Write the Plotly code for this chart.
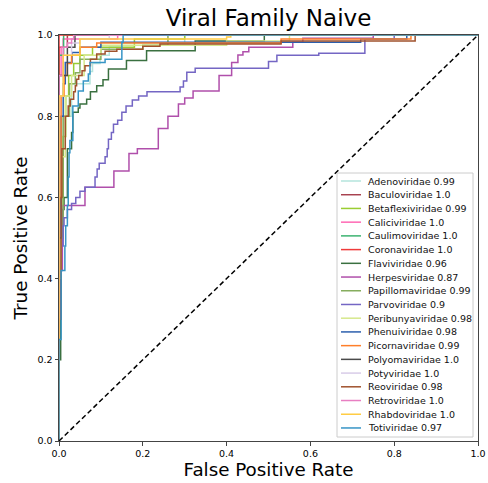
import plotly.graph_objects as go

# ---------------- data ----------------
families = ["Adenoviridae", "Baculoviridae", "Betaflexiviridae", "Caliciviridae",
            "Caulimoviridae", "Coronaviridae", "Flaviviridae", "Herpesviridae",
            "Papillomaviridae", "Parvoviridae", "Peribunyaviridae", "Phenuiviridae",
            "Picornaviridae", "Polyomaviridae", "Potyviridae", "Reoviridae",
            "Retroviridae", "Rhabdoviridae", "Totiviridae"]
auc_labels = ["0.99", "1.0", "0.99", "1.0", "1.0", "1.0", "0.96", "0.87", "0.99", "0.9",
              "0.98", "0.98", "0.99", "1.0", "1.0", "0.98", "1.0", "1.0", "0.97"]
colors = ["#b4e4dc", "#a8424f", "#9acd32", "#ff69b4", "#3cb371", "#ef3b3b", "#3a7040",
          "#b04fab", "#86ad5e", "#7466c4", "#d6e88c", "#2c5fad", "#ff7f2a", "#4a4a4a",
          "#d8cce8", "#a0522d", "#e87fc2", "#ffcc44", "#3795c6"]

adeno_fpr = [0, 0, 0.01, 0.03, 0.074, 0.08, 0.098, 0.12, 0.15, 0.3, 1]
adeno_tpr = [0, 0.5, 0.8, 0.88, 0.91, 0.93, 0.95, 0.97, 0.98, 1.0, 1]

bacul_fpr = [0, 0, 0.02, 1]
bacul_tpr = [0, 0.97, 1.0, 1]

betaf_fpr = [0, 0, 0.01, 0.016, 0.023, 0.035, 0.05, 0.08, 0.18, 0.3, 1]
betaf_tpr = [0, 0.5, 0.75, 0.85, 0.9, 0.93, 0.95, 0.97, 0.99, 1.0, 1]

calic_fpr = [0, 0, 0.005, 0.01, 0.14, 1]
calic_tpr = [0, 0.9, 0.97, 0.99, 1.0, 1]

cauli_fpr = [0, 0, 0.011, 1]
cauli_tpr = [0, 0.95, 1.0, 1]

coron_fpr = [0, 0, 1]
coron_tpr = [0, 1.0, 1]

flavi_fpr = [0, 0, 0.004, 0.008, 0.012, 0.02, 0.03, 0.033, 0.046, 0.05, 0.066, 0.075,
             0.09, 0.105, 0.118, 0.161, 0.209, 0.325, 0.49, 1]
flavi_tpr = [0, 0.2, 0.5, 0.57, 0.6, 0.72, 0.76, 0.81, 0.82, 0.83, 0.842, 0.86,
             0.875, 0.89, 0.916, 0.937, 0.961, 0.985, 1.0, 1]

herpes_fpr = [0, 0, 0.005, 0.008, 0.01, 0.062, 0.131, 0.167, 0.187, 0.237, 0.26, 0.285,
              0.30, 0.32, 0.382, 0.412, 0.427, 0.439, 0.453, 0.558, 0.582, 0.75, 1]
herpes_tpr = [0, 0.30, 0.42, 0.50, 0.58, 0.625, 0.665, 0.708, 0.72, 0.77, 0.80, 0.83,
              0.845, 0.862, 0.9, 0.932, 0.951, 0.959, 0.97, 0.982, 0.992, 1.0, 1]

papil_fpr = [0, 0, 0.01, 0.025, 0.039, 0.05, 0.1, 0.2, 0.26, 1]
papil_tpr = [0, 0.5, 0.8, 0.88, 0.907, 0.94, 0.965, 0.975, 1.0, 1]

parvo_fpr = [0, 0, 0.005, 0.01, 0.012, 0.02, 0.03, 0.04, 0.05, 0.062, 0.086, 0.091, 0.096,
             0.11, 0.115, 0.118, 0.125, 0.13, 0.14, 0.15, 0.16, 0.175, 0.19, 0.21, 0.289,
             0.297, 0.305, 0.325, 0.5, 0.52, 0.62, 0.73, 0.8, 1]
parvo_tpr = [0, 0.35, 0.48, 0.53, 0.55, 0.57, 0.585, 0.6, 0.615, 0.625, 0.65, 0.67, 0.684,
             0.70, 0.72, 0.743, 0.76, 0.78, 0.79, 0.81, 0.825, 0.84, 0.85, 0.86, 0.872,
             0.887, 0.908, 0.918, 0.935, 0.95, 0.955, 0.99, 1.0, 1]

perib_fpr = [0, 0, 0.005, 0.015, 0.03, 0.06, 0.1, 0.4, 0.55, 1]
perib_tpr = [0, 0.4, 0.7, 0.85, 0.9, 0.95, 0.975, 0.985, 1.0, 1]

phenu_fpr = [0, 0, 0.005, 0.01, 0.015, 0.031, 0.05, 0.1, 0.72, 0.83, 1]
phenu_tpr = [0, 0.5, 0.8, 0.88, 0.932, 0.957, 0.97, 0.982, 0.99, 1.0, 1]

picor_fpr = [0, 0, 0.005, 0.012, 0.02, 0.03, 0.05, 0.09, 0.53, 0.84, 1]
picor_tpr = [0, 0.6, 0.85, 0.9, 0.93, 0.95, 0.97, 0.98, 0.99, 1.0, 1]

polyo_fpr = [0, 0, 0.02, 0.038, 1]
polyo_tpr = [0, 0.9, 0.97, 1.0, 1]

potyv_fpr = [0, 0, 0.01, 0.03, 0.05, 0.12, 1]
potyv_tpr = [0, 0.85, 0.95, 0.98, 0.99, 1.0, 1]

reovi_fpr = [0, 0, 0.005, 0.007, 0.015, 0.022, 0.027, 0.035, 0.039, 0.042, 0.047, 0.055,
             0.062, 0.075, 0.09, 0.11, 0.138, 0.2, 0.241, 0.53, 0.85, 1]
reovi_tpr = [0, 0.3, 0.6, 0.72, 0.80, 0.825, 0.842, 0.86, 0.875, 0.891, 0.9, 0.912,
             0.924, 0.94, 0.953, 0.96, 0.965, 0.972, 0.978, 0.985, 1.0, 1]

retro_fpr = [0, 0, 0.01, 0.02, 0.03, 0.035, 1]
retro_tpr = [0, 0.9, 0.97, 0.98, 0.99, 1.0, 1]

rhabd_fpr = [0, 0, 0.01, 0.05, 0.4, 0.41, 1]
rhabd_tpr = [0, 0.85, 0.95, 0.99, 0.995, 1.0, 1]

totiv_fpr = [0, 0, 0.005, 0.014, 0.016, 0.02, 0.022, 0.024, 0.026, 0.033, 0.046, 0.058,
             0.07, 0.074, 0.11, 0.15, 0.153, 1]
totiv_tpr = [0, 0.25, 0.42, 0.48, 0.53, 0.58, 0.65, 0.71, 0.74, 0.825, 0.862, 0.887,
             0.904, 0.932, 0.94, 0.982, 1.0, 1]

fpr_list = [adeno_fpr, bacul_fpr, betaf_fpr, calic_fpr, cauli_fpr, coron_fpr, flavi_fpr,
            herpes_fpr, papil_fpr, parvo_fpr, perib_fpr, phenu_fpr, picor_fpr, polyo_fpr,
            potyv_fpr, reovi_fpr, retro_fpr, rhabd_fpr, totiv_fpr]
tpr_list = [adeno_tpr, bacul_tpr, betaf_tpr, calic_tpr, cauli_tpr, coron_tpr, flavi_tpr,
            herpes_tpr, papil_tpr, parvo_tpr, perib_tpr, phenu_tpr, picor_tpr, polyo_tpr,
            potyv_tpr, reovi_tpr, retro_tpr, rhabd_tpr, totiv_tpr]

diag = [0, 1]
ticks = [0.0, 0.2, 0.4, 0.6, 0.8, 1.0]
tick_text = ["0.0", "0.2", "0.4", "0.6", "0.8", "1.0"]

# ---------------- layout geometry (pixels) ----------------
W, H = 488, 483
ML, MR, MT, MB = 59, 10, 35, 42
PL, PR, PT, PB = ML, W - MR, MT, H - MB
FONT = "DejaVu Sans"
SPINE = "#444444"


def px_x(px):
    return (px - PL) / (PR - PL)


def px_y(py):
    return (PB - py) / (PB - PT)


fig = go.Figure()
for name, fx, ty, col in zip(families, fpr_list, tpr_list, colors):
    fig.add_trace(go.Scatter(x=fx, y=ty, mode="lines", line_shape="hv",
                             line=dict(color=col, width=1.5), name=name,
                             hoverinfo="skip"))
fig.add_trace(go.Scatter(x=diag, y=diag, mode="lines",
                         line=dict(color="black", width=1.5, dash="5px,3px"),
                         hoverinfo="skip"))

# custom legend (matplotlib-like box)
shapes = []
annotations = []
LX0, LX1, LY0, LY1 = 337, 473, 173, 437
ROW0, STEP = 181, 13.72
shapes.append(dict(type="rect", xref="paper", yref="paper",
                   x0=px_x(LX0), x1=px_x(LX1), y0=px_y(LY1), y1=px_y(LY0),
                   fillcolor="rgba(255,255,255,0.85)",
                   line=dict(color="#cccccc", width=1), layer="above"))
for i, (name, auc, col) in enumerate(zip(families, auc_labels, colors)):
    yy = px_y(ROW0 + STEP * i)
    shapes.append(dict(type="line", xref="paper", yref="paper",
                       x0=px_x(341), x1=px_x(361), y0=yy, y1=yy,
                       line=dict(color=col, width=1.5), layer="above"))
    annotations.append(dict(xref="paper", yref="paper", x=px_x(366), y=yy,
                            xanchor="left", yanchor="middle", showarrow=False,
                            text=f"{name} {auc}",
                            font=dict(family=FONT, size=9.5, color="#111")))

fig.update_layout(
    width=W, height=H, autosize=False,
    margin=dict(l=ML, r=MR, t=MT, b=MB, pad=0, autoexpand=False),
    paper_bgcolor="white", plot_bgcolor="white",
    showlegend=False,
    title=dict(text="Viral Family Naive", x=0.5, xref="paper",
               y=1 - 18 / H, yref="container", xanchor="center", yanchor="middle",
               automargin=False,
               font=dict(family=FONT, size=23, color="black")),
    shapes=shapes, annotations=annotations,
    xaxis=dict(range=[0, 1], tickvals=ticks, ticktext=tick_text, ticks="outside",
               ticklen=3.5, tickwidth=0.8, tickcolor=SPINE, automargin=False,
               showline=True, linecolor=SPINE, linewidth=1, mirror=True,
               showgrid=False, zeroline=False,
               tickfont=dict(family=FONT, size=9.5, color="black"),
               title=dict(text="False Positive Rate", standoff=3,
                          font=dict(family=FONT, size=18.3, color="black"))),
    yaxis=dict(range=[0, 1], tickvals=ticks, ticktext=tick_text, ticks="outside",
               ticklen=3.5, tickwidth=0.8, tickcolor=SPINE, automargin=False,
               showline=True, linecolor=SPINE, linewidth=1, mirror=True,
               showgrid=False, zeroline=False,
               tickfont=dict(family=FONT, size=9.5, color="black"),
               title=dict(text="True Positive Rate", standoff=5,
                          font=dict(family=FONT, size=18.3, color="black"))),
)

fig.write_html("out.html", config={"responsive": False})
